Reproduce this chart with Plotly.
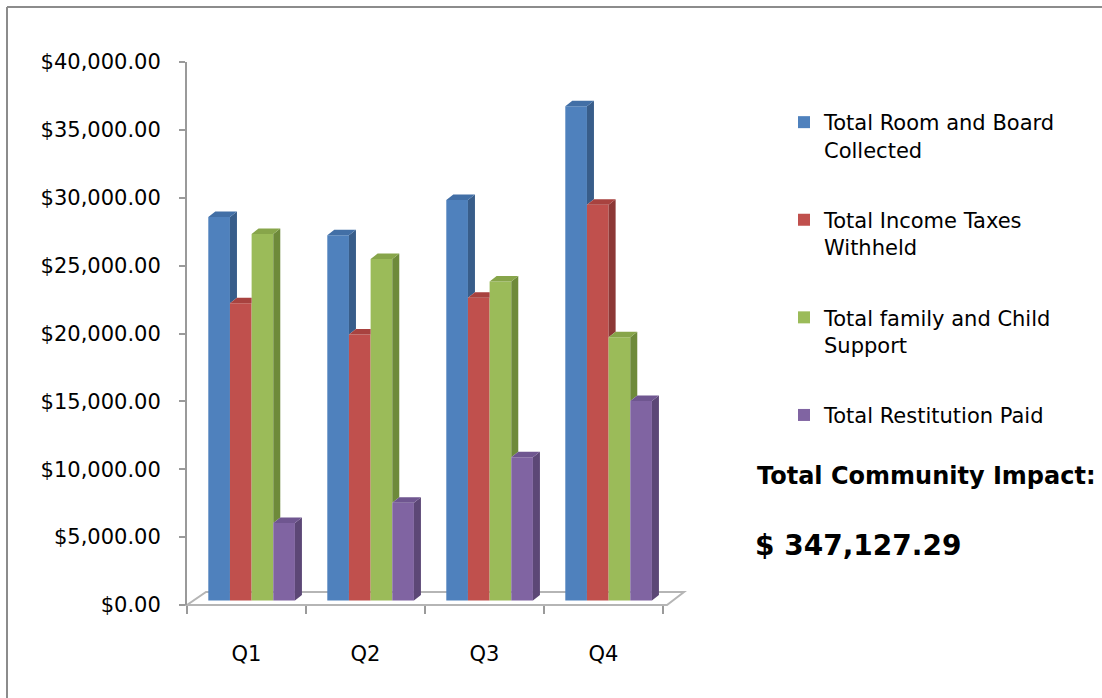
import plotly.graph_objects as go

# ---------------- data ----------------
quarters = ["Q1", "Q2", "Q3", "Q4"]
series_names = [
    "Total Room and Board<br>Collected",
    "Total Income Taxes<br>Withheld",
    "Total family and Child<br>Support",
    "Total Restitution Paid",
]
room_board = [28250, 26900, 29500, 36400]
income_taxes = [21900, 19600, 22300, 29150]
family_child = [27000, 25150, 23500, 19400]
restitution = [5700, 7200, 10550, 14700]
y_tickvals = [0, 5000, 10000, 15000, 20000, 25000, 30000, 35000, 40000]
impact_label = "Total Community Impact:"
impact_value = "$ 347,127.29"

series_values = [room_board, income_taxes, family_child, restitution]

# ---------------- style ----------------
FONT = "DejaVu Sans"
front_colors = ["#4F81BD", "#C0504D", "#9BBB59", "#8064A2"]
side_colors = ["#385D8A", "#8C3836", "#6E8A3A", "#5C4776"]
top_colors = ["#426FA6", "#A8423F", "#87A54A", "#6F5690"]
axis_gray = "#9a9a9a"

W, H = 1102, 698
L, R, T, B = 187, 663, 62, 605
Y_MAX = 40000
units_per_px_y = Y_MAX / (B - T)
units_per_px_x = 4.0 / (R - L)

bar_width = 0.182
group_start = -0.321
bar_base = 4.5 * units_per_px_y
depth_dx = 7 * units_per_px_x
depth_dy = 5.5 * units_per_px_y


def px_x(p):
    return (p - L) / (R - L)


def px_y(p):
    return (B - p) / (B - T)


fig = go.Figure()

# front faces (real bar traces)
for k, (name, vals) in enumerate(zip(series_names, series_values)):
    fig.add_trace(go.Bar(
        x=list(range(len(quarters))),
        y=vals,
        base=[bar_base] * len(vals),
        width=bar_width,
        offset=group_start + k * bar_width,
        name=name,
        legendgroup=f"g{k}",
        marker=dict(color=front_colors[k], line=dict(width=0)),
        customdata=quarters,
        hovertemplate="%{customdata}: $%{y:,.2f}<extra></extra>",
    ))

# 3-D side and top faces, derived from the same values
for k, vals in enumerate(series_values):
    side_x, side_y, top_x, top_y = [], [], [], []
    for i, v in enumerate(vals):
        xl = i + group_start + k * bar_width
        xr = xl + bar_width
        top = bar_base + v
        nxt = bar_base + series_values[k + 1][i] if k < len(series_values) - 1 else None
        low = bar_base if nxt is None else nxt
        if low < top:
            side_x += [xr, xr, xr + depth_dx, xr + depth_dx, xr, None]
            side_y += [low, top, top + depth_dy, low + depth_dy, low, None]
        if nxt is not None and nxt > top:
            top_x += [xl, xr, xr, xl + depth_dx, xl, None]
            top_y += [top, top, top + depth_dy, top + depth_dy, top, None]
        else:
            top_x += [xl, xr, xr + depth_dx, xl + depth_dx, xl, None]
            top_y += [top, top, top + depth_dy, top + depth_dy, top, None]
    fig.add_trace(go.Scatter(x=side_x, y=side_y, mode="lines", fill="toself",
                             fillcolor=side_colors[k], line=dict(width=0),
                             showlegend=False, hoverinfo="skip"))
    fig.add_trace(go.Scatter(x=top_x, y=top_y, mode="lines", fill="toself",
                             fillcolor=top_colors[k], line=dict(width=0),
                             showlegend=False, hoverinfo="skip"))

# floor and outer frame (top and left edges only)
floor_path = "M {} {} L {} {} L {} {} L {} {} Z".format(
    px_x(187), px_y(605), px_x(667), px_y(605),
    px_x(684), px_y(592), px_x(206), px_y(592))
shapes = [
    dict(type="path", xref="paper", yref="paper", path=floor_path,
         line=dict(color="#b5b5b5", width=2), fillcolor="white", layer="below"),
    dict(type="line", xref="paper", yref="paper",
         x0=px_x(7), y0=px_y(7), x1=px_x(W + 10), y1=px_y(7),
         line=dict(color="#8c8c8c", width=2), layer="below"),
    dict(type="line", xref="paper", yref="paper",
         x0=px_x(7), y0=px_y(7), x1=px_x(7), y1=px_y(H + 10),
         line=dict(color="#8c8c8c", width=2), layer="below"),
]

annotations = [
    dict(text=impact_label, xref="paper", yref="paper", x=px_x(755), y=px_y(476),
         xanchor="left", yanchor="middle", showarrow=False,
         font=dict(family=FONT, size=24, color="black", weight="bold")),
    dict(text=impact_value, xref="paper", yref="paper", x=px_x(753), y=px_y(545),
         xanchor="left", yanchor="middle", showarrow=False,
         font=dict(family=FONT, size=28, color="black", weight="bold")),
]

fig.update_layout(
    width=W, height=H,
    margin=dict(l=L, r=W - R, t=T, b=H - B, autoexpand=False),
    paper_bgcolor="white", plot_bgcolor="rgba(0,0,0,0)",
    font=dict(family=FONT, color="black", size=21),
    barmode="overlay",
    shapes=shapes,
    annotations=annotations,
    legend=dict(
        x=px_x(784), y=px_y(102), xanchor="left", yanchor="top",
        font=dict(family=FONT, size=21, color="black"),
        valign="top", traceorder="grouped", tracegroupgap=40,
        bgcolor="rgba(0,0,0,0)",
    ),
    xaxis=dict(
        range=[-0.5, 3.5], tickmode="array",
        tickvals=list(range(len(quarters))), ticktext=quarters,
        ticks="", showline=False, showgrid=False, zeroline=False,
        ticklabelstandoff=34, tickfont=dict(size=21),
        minor=dict(tickmode="array", tickvals=[i - 0.5 for i in range(len(quarters) + 1)],
                   ticks="outside", ticklen=8, tickwidth=1.5, tickcolor=axis_gray,
                   showgrid=False),
        fixedrange=True,
    ),
    yaxis=dict(
        range=[0, Y_MAX], tickmode="array", tickvals=y_tickvals,
        tickformat="$,.2f", ticks="outside", ticklen=6, tickwidth=1.5,
        tickcolor=axis_gray, showline=True, linecolor=axis_gray, linewidth=2,
        showgrid=False, zeroline=False, ticklabelstandoff=14,
        tickfont=dict(size=21), fixedrange=True,
    ),
)

fig.write_html(
    "out.html",
    config={"displayModeBar": False},
    post_script="document.body.style.margin='0';document.body.style.overflow='hidden';",
)
